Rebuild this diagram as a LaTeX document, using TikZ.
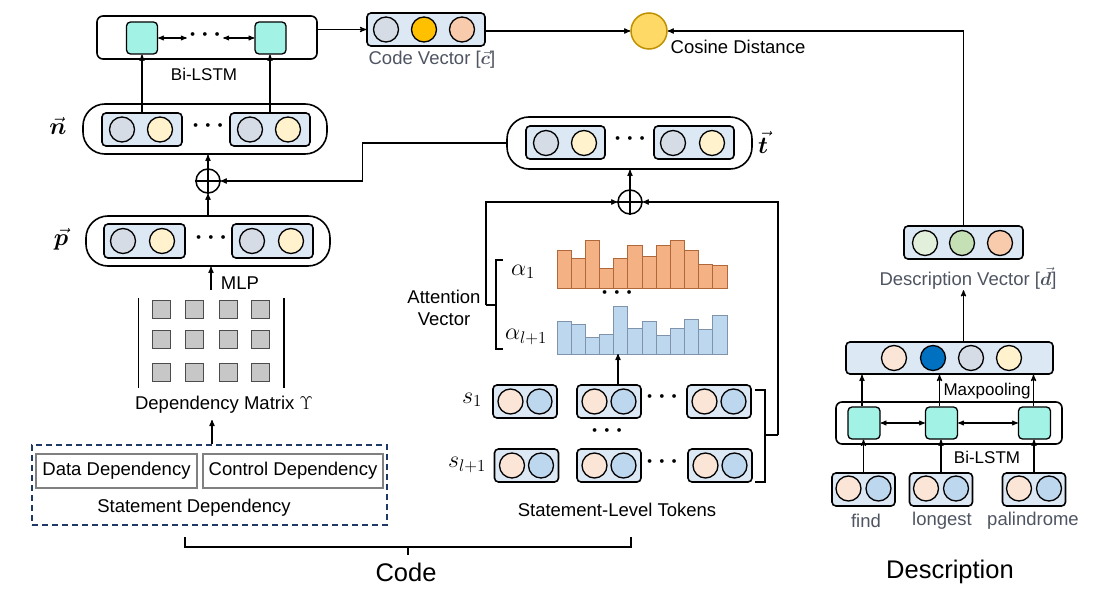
\RequirePackage{fix-cm}
\documentclass[tikz,border=0pt]{standalone}
\usepackage[no-math]{fontspec}
\setmainfont{Liberation Sans}
\usepackage{bm}
\usepackage{xcolor}
\usepackage{tikz}
\usetikzlibrary{positioning,calc,arrows}
\definecolor{lstmcyan}{HTML}{A2F2E6}
\definecolor{boxblue}{HTML}{DDE8F5}
\definecolor{cgray}{HTML}{D6DCE5}
\definecolor{cyellow}{HTML}{FFF2CC}
\definecolor{cgold}{HTML}{FFC000}
\definecolor{csalmon}{HTML}{F8CBAD}
\definecolor{cpeach}{HTML}{FBE5D6}
\definecolor{cblue}{HTML}{BDD7EE}
\definecolor{cdblue}{HTML}{0070C0}
\definecolor{clgreen}{HTML}{E2EFDA}
\definecolor{cgreen}{HTML}{C5E0B4}
\definecolor{cosfill}{HTML}{FFD966}
\definecolor{cosline}{HTML}{BF9000}
\definecolor{barorange}{HTML}{F4B183}
\definecolor{barorangeline}{HTML}{B0683A}
\definecolor{barblue}{HTML}{BDD7EE}
\definecolor{barblueline}{HTML}{7F93AA}
\definecolor{labgrey}{HTML}{4E5461}
\definecolor{navy}{HTML}{1F3864}
\tikzset{
  txt/.style      = {font=\fontsize{18.5}{22}\selectfont, inner sep=1pt},
  smalltxt/.style = {font=\fontsize{17}{20}\selectfont, inner sep=1pt},
  bigtxt/.style   = {font=\fontsize{25.5}{30}\selectfont, inner sep=1pt},
  mathtxt/.style  = {font=\fontsize{24}{28}\selectfont, inner sep=1pt},
  dotstxt/.style  = {font=\fontsize{24}{28}\selectfont, inner sep=2pt},
  pill/.style     = {draw, line width=1.6pt, rounded corners=22pt, fill=white,
                     minimum width=244pt, minimum height=50pt},
  lstmframe/.style = {draw, line width=1.6pt, rounded corners=6pt, fill=white},
  pair/.style     = {draw, line width=1.6pt, rounded corners=4pt, fill=boxblue,
                     minimum width=80pt, minimum height=33pt},
  dotcell/.style  = {circle, draw, line width=1.3pt, minimum size=25pt, inner sep=0pt},
  lstm/.style     = {draw, line width=1.3pt, rounded corners=4pt, fill=lstmcyan,
                     minimum width=31pt, minimum height=32pt},
  fuse/.style     = {circle, draw, line width=1.5pt, minimum size=24pt, inner sep=0pt},
  cosnode/.style  = {circle, draw=cosline, fill=cosfill, line width=1.5pt, minimum size=36pt},
  mcell/.style    = {draw=black!70, fill=black!22, line width=0.9pt, minimum size=18pt, inner sep=0pt},
  depbox/.style   = {draw=black!50, line width=2pt, minimum height=34pt, inner sep=2pt},
  edge/.style     = {->, >=stealth', line width=1.2pt},
  biedge/.style   = {<->, >=stealth', line width=1.1pt},
  wire/.style     = {line width=1.2pt}
}
\begin{document}
\begin{tikzpicture}[x=1pt, y=-1pt]
  \useasboundingbox (0,0) rectangle (1098,599);

  % code: Bi-LSTM on top
  \node[lstmframe, minimum width=220pt, minimum height=43pt] (toplstm) at (207,37.5) {};
  \node[lstm] (lstmA) at (142,38) {};
  \node[lstm] (lstmB) at (270.5,38) {};
  \node[dotstxt] (topdots) at (205,35) {$\bm{\cdots}$};
  \draw[biedge] (lstmA.east) -- (topdots.west |- lstmA.east);
  \draw[biedge] (topdots.east |- lstmB.west) -- (lstmB.west);
  \node[smalltxt] (toplab) at (204,74) {Bi-LSTM};

  % code vector and cosine
  \node[pair, minimum width=118pt] (cvec) at (426,29.5) {};
  \node[dotcell, fill=cgray] (cv1) at (386,29.5) {};
  \node[dotcell, fill=cgold] (cv2) at (424,29.5) {};
  \node[dotcell, fill=csalmon] (cv3) at (462,29.5) {};
  \node[txt, text=labgrey] (cveclab) at (432,60) {Code Vector [$\vec{\bm c}$]};
  \node[cosnode] (cos) at (649,31) {};
  \node[txt] (coslab) at (738,47) {Cosine Distance};
  \draw[edge] (toplstm.east |- cv2) -- (cvec.west |- cv2);
  \draw[edge] (cvec.east |- cos.west) -- (cos.west);

  % n row
  \node[pill] (nbox) at (205,129) {};
  \node[pair] (n1) at (142,129.5) {};
  \node[pair] (n2) at (270,129.5) {};
  \node[dotcell, fill=cgray] (n1a) at (122,129.5) {};
  \node[dotcell, fill=cyellow] (n1b) at (160,129.5) {};
  \node[dotcell, fill=cgray] (n2a) at (250,129.5) {};
  \node[dotcell, fill=cyellow] (n2b) at (288,129.5) {};
  \node[dotstxt] (ndots) at (208,126) {$\bm{\cdots}$};
  \node[mathtxt] (nlab) at (58,126) {$\vec{\bm n}$};
  \draw[edge] (n1.north) -- (lstmA.south);
  \draw[edge] (n2.north) -- (lstmB.south -| n2.north);

  % fusion of n
  \node[fuse] (op1) at (208,181) {};
  \draw[line width=1.5pt] (op1.north) -- (op1.south) (op1.west) -- (op1.east);
  \draw[edge] (op1.north) -- (op1.north |- nbox.south);

  % p row
  \node[pill] (pbox) at (208,241) {};
  \node[pair, minimum width=81pt, minimum height=34pt] (p1) at (144.5,241) {};
  \node[pair, minimum width=81pt, minimum height=34pt] (p2) at (272.5,241) {};
  \node[dotcell, fill=cgray] (p1a) at (123,241) {};
  \node[dotcell, fill=cyellow] (p1b) at (162,241) {};
  \node[dotcell, fill=cgray] (p2a) at (252,241) {};
  \node[dotcell, fill=cyellow] (p2b) at (291,241) {};
  \node[dotstxt] (pdots) at (211,238) {$\bm{\cdots}$};
  \node[mathtxt] (plab) at (61,239) {$\vec{\bm p}$};
  \draw[edge] (pbox.north -| op1) -- (op1.south);

  % dependency matrix
  \node[minimum width=145pt, minimum height=98pt] (mat) at (211,339) {};
  \draw[line width=1.6pt] ([yshift=-8pt]mat.north west) -- (mat.south west);
  \draw[line width=1.6pt] ([yshift=-8pt]mat.north east) -- (mat.south east);
  \foreach \y [count=\r] in {309,339,372}
    \foreach \x [count=\c] in {161,194,228,260}
      \node[mcell] (m\r\c) at (\x,\y) {};
  \draw[edge] (mat.north) -- (mat.north |- pbox.south);
  \node[txt] (mlp) at (240,283) {MLP};
  \node[txt] (matlab) at (224,405) {Dependency Matrix $\Upsilon$};

  % statement dependency
  \node[draw=navy, dash pattern=on 6pt off 4pt, line width=1.3pt, minimum width=355pt, minimum height=80pt] (stdep) at (209.5,485) {};
  \node[depbox, minimum width=161pt] (datadep) at (116.5,470.5) {};
  \node[txt] at (datadep) {Data Dependency};
  \node[depbox, minimum width=180pt] (ctrldep) at (293,471) {};
  \node[txt] at (ctrldep) {Control Dependency};
  \node[txt] (stlab) at (194,508) {Statement Dependency};
  \draw[edge] (stdep.north -| 212,0) -- (212,420);

  % t row
  \node[pill, minimum width=245pt, minimum height=52pt] (tbox) at (629.5,143) {};
  \node[pair, minimum width=79pt] (t1) at (565.5,142.5) {};
  \node[pair] (t2) at (694,142.5) {};
  \node[dotcell, fill=cgray] (t1a) at (546,143) {};
  \node[dotcell, fill=cyellow] (t1b) at (584,143) {};
  \node[dotcell, fill=cgray] (t2a) at (673,143) {};
  \node[dotcell, fill=cyellow] (t2b) at (712,143) {};
  \node[dotstxt] (tdots) at (630,139) {$\bm{\cdots}$};
  \node[mathtxt] (tlab) at (763,142) {$\vec{\bm t}$};
  \draw[edge] (tbox.west) -- ++(-144,0) |- (op1.east);

  % fusion of t
  \node[fuse] (op2) at (630,202) {};
  \draw[line width=1.5pt] (op2.north) -- (op2.south) (op2.west) -- (op2.east);
  \draw[edge] (op2.north) -- (op2.north |- tbox.south);

  % attention vectors
  \foreach \h [count=\i from 0] in {250.7,258.7,240.7,268.7,258.7,245.3,256.3,245.3,240.7,250.7,264,265.7}
    \draw[fill=barorange, draw=barorangeline, line width=1pt] ({557+\i*14.17},288) rectangle ({557+(\i+1)*14.17},\h);
  \foreach \h [count=\i from 0] in {321.3,324.3,337,334,306.3,328.7,321.7,335.3,328.7,319,329.3,315.3}
    \draw[fill=barblue, draw=barblueline, line width=1pt] ({557+\i*14.17},354) rectangle ({557+(\i+1)*14.17},\h);
  \coordinate (barsB) at (618,354);
  \node[dotstxt] (adots) at (617,293) {$\bm{\cdots}$};
  \node[mathtxt] (a1) at (523,272) {$\alpha_1$};
  \node[mathtxt] (a2) at (526,337) {$\alpha_{l+1}$};
  \draw[wire] (503,260) -- (496,260) -- (496,349) -- (503,349);
  \coordinate (attTip) at (486,305);
  \draw[wire] (496,305) -- (attTip);
  \node[txt, align=center] (attlab) at (444,308) {Attention\\Vector};
  \draw[edge] (attTip) |- (op2.west);

  % statement-level tokens
  \foreach \nm/\x/\y in {sa1/525/401.5, sb1/609/401.5, sc1/719/401.5,
                         sa2/526.5/465.5, sb2/609/465.5, sc2/720/465.5} {
    \node[pair, minimum width=64pt] (\nm) at (\x,\y) {};
    \node[dotcell, fill=cpeach] (\nm-l) at (\x-14.5,\y) {};
    \node[dotcell, fill=cblue] (\nm-r) at (\x+14.5,\y) {};
  }
  \node[dotstxt] (sdots1) at (662,397) {$\bm{\cdots}$};
  \node[dotstxt] (sdots2) at (662,462) {$\bm{\cdots}$};
  \node[dotstxt] (sdots3) at (607,431) {$\bm{\cdots}$};
  \node[mathtxt] (s1lab) at (472,400) {$s_1$};
  \node[mathtxt] (s2lab) at (467,465) {$s_{l+1}$};
  \draw[edge] (sb1.north -| barsB) -- (barsB);
  \draw[wire] (755,390) -- (765,390) -- (765,482) -- (755,482);
  \coordinate (tokTip) at (778,435);
  \draw[wire] (765,435) -- (tokTip);
  \draw[edge] (tokTip) |- (op2.east);
  \node[txt] (toklab) at (617,510) {Statement-Level Tokens};

  % code brace
  \draw[wire] (185,537) -- (185,547) -- (631,547) -- (631,537);
  \draw[wire] (408,547) -- (408,555);
  \node[bigtxt] (codelab) at (406,572) {Code};

  % description side
  \node[pair, minimum width=119pt] (dvec) at (963.5,242.5) {};
  \node[dotcell, fill=clgreen] (dv1) at (925,243) {};
  \node[dotcell, fill=cgreen] (dv2) at (962,243) {};
  \node[dotcell, fill=csalmon] (dv3) at (1000,243) {};
  \node[txt, text=labgrey] (dveclab) at (968,278) {Description Vector [$\vec{\bm d}$]};
  \draw[edge] (dvec.north) |- (cos.east);

  \node[pair, minimum width=207pt, minimum height=32pt] (mpool) at (949.5,358) {};
  \node[dotcell, fill=cpeach] (mp1) at (894,358) {};
  \node[dotcell, fill=cdblue] (mp2) at (933,358) {};
  \node[dotcell, fill=cgray] (mp3) at (971,358) {};
  \node[dotcell, fill=cyellow] (mp4) at (1009,358) {};
  \draw[edge] (mpool.north -| dvec) -- (dveclab.south -| dvec);
  \node[smalltxt] (mplab) at (987,391) {Maxpooling};

  \node[lstmframe, minimum width=226pt, minimum height=42pt] (dlstm) at (949,423) {};
  \node[lstm, minimum width=32pt] (dA) at (864,423) {};
  \node[lstm, minimum width=32pt] (dB) at (941.5,423) {};
  \node[lstm, minimum width=32pt] (dC) at (1034.5,423) {};
  \draw[biedge] (dA.east) -- (dB.west);
  \draw[biedge] (dB.east) -- (dC.west);
  \draw[edge] ([xshift=-2pt]dA.north) -- ([xshift=-2pt]dA.north |- mpool.south);
  \draw[edge] ([xshift=-2pt]dB.north) -- ([xshift=-2pt]dB.north |- mpool.south);
  \draw[edge] ([xshift=-1pt]dC.north) -- ([xshift=-1pt]dC.north |- mpool.south);
  \node[smalltxt] (dlstmlab) at (987,457) {Bi-LSTM};

  \foreach \nm/\x in {w1/863.5, w2/941, w3/1034} {
    \node[pair, minimum width=63pt] (\nm) at (\x,489.5) {};
    \node[dotcell, fill=cpeach] (\nm-l) at (\x-15,488.5) {};
    \node[dotcell, fill=cblue] (\nm-r) at (\x+15,488.5) {};
  }
  \draw[edge] (w1.north) -- (dA.south -| w1.north);
  \draw[edge] (w2.north) -- (dB.south -| w2.north);
  \draw[edge] (w3.north) -- (dC.south -| w3.north);
  \node[txt, text=labgrey] (w1lab) at (866,521) {find};
  \node[txt, text=labgrey] (w2lab) at (942,521) {longest};
  \node[txt, text=labgrey] (w3lab) at (1033,521) {palindrome};
  \node[bigtxt] (desclab) at (950,572) {Description};
\end{tikzpicture}
\end{document}
